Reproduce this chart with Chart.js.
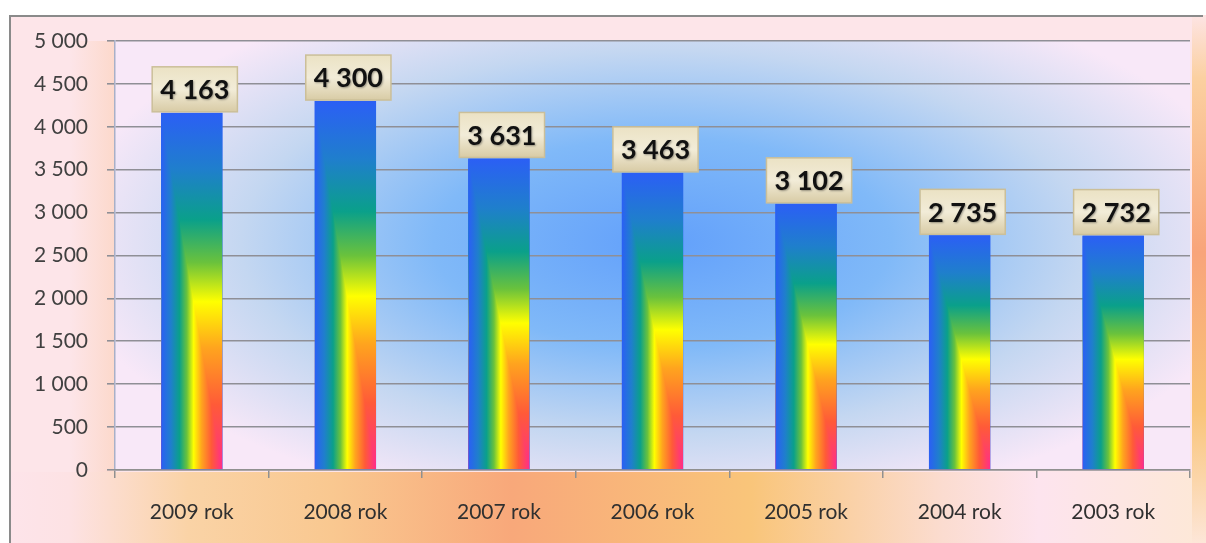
<!DOCTYPE html>
<html>
<head>
<meta charset="utf-8">
<script src="https://cdn.jsdelivr.net/npm/chart.js@4.4.0/dist/chart.umd.min.js"></script>
<style>
  html, body { margin: 0; padding: 0; background: #fff; }
  #wrap { width: 1206px; height: 543px; position: relative; }
</style>
</head>
<body>
<div id="wrap"><canvas id="c" width="1206" height="543"></canvas></div>
<script>
// Dane
const lata = ['2009 rok', '2008 rok', '2007 rok', '2006 rok', '2005 rok', '2004 rok', '2003 rok'];
const wartosci = [4163, 4300, 3631, 3463, 3102, 2735, 2732];
const osY = { min: 0, max: 5000, step: 500 };

// 4163 -> "4 163"
const fmt = n => String(n).replace(/\B(?=(\d{3})+(?!\d))/g, ' ');

// Kolory tęczy w słupku
const teczka = [
  [0.00, '#2b5ff5'], [0.16, '#1f7fcc'], [0.30, '#0aa08a'], [0.42, '#6ac23c'],
  [0.53, '#ffff00'], [0.66, '#ffa41e'], [0.82, '#ff5a38'], [1.00, '#ff2c8c']
];

// Tło całego obrazka
const tlo = {
  id: 'tlo',
  beforeDraw(chart) {
    const ctx = chart.ctx;
    const W = chart.width, H = chart.height;
    ctx.save();
    ctx.fillStyle = '#ffffff';
    ctx.fillRect(0, 0, W, H);
    ctx.fillStyle = '#fde5e9';
    ctx.fillRect(9, 15, W - 9, H - 15);
    // pas dolny
    const g = ctx.createLinearGradient(9, 0, W, 0);
    g.addColorStop(0.00, '#fde4ea');
    g.addColorStop(0.05, '#fde2e4');
    g.addColorStop(0.15, '#fad3a6');
    g.addColorStop(0.27, '#f9c890');
    g.addColorStop(0.42, '#f8a87a');
    g.addColorStop(0.62, '#f9c57a');
    g.addColorStop(0.78, '#fbdcd0');
    g.addColorStop(0.86, '#fde4ee');
    g.addColorStop(1.00, '#fde8d6');
    ctx.fillStyle = g;
    ctx.fillRect(9, 472, W - 9, H - 472);
    // pas prawy
    const g2 = ctx.createLinearGradient(0, 15, 0, H);
    g2.addColorStop(0.00, '#fde4e4');
    g2.addColorStop(0.12, '#fbd0a0');
    g2.addColorStop(0.45, '#f8a47a');
    g2.addColorStop(0.75, '#f9c478');
    g2.addColorStop(1.00, '#fde6d8');
    ctx.fillStyle = g2;
    ctx.fillRect(1192, 15, W - 1192, H - 15);
    // pasek przy osi
    const g3 = ctx.createLinearGradient(70, 0, 115, 0);
    g3.addColorStop(0, 'rgba(252,214,196,0)');
    g3.addColorStop(1, 'rgba(252,214,196,0.8)');
    ctx.fillStyle = g3;
    ctx.fillRect(70, 41, 45, 431);
    // ramka
    ctx.strokeStyle = '#8a8a8a';
    ctx.lineWidth = 2;
    ctx.beginPath();
    ctx.moveTo(10, H);
    ctx.lineTo(10, 16);
    ctx.lineTo(W - 3, 16);
    ctx.stroke();
    // obszar wykresu
    const a = chart.chartArea;
    const cx = (a.left + a.right) / 2 + 10, cy = a.top + (a.bottom - a.top) * 0.47;
    const rx = (a.right - a.left) * 0.56, ry = (a.bottom - a.top) * 0.64;
    ctx.save();
    ctx.beginPath();
    ctx.rect(a.left, a.top, a.right - a.left, a.bottom - a.top);
    ctx.clip();
    ctx.translate(cx, cy);
    ctx.scale(rx / ry, 1);
    const rg = ctx.createRadialGradient(0, 0, 0, 0, 0, ry);
    rg.addColorStop(0.00, '#62a0fb');
    rg.addColorStop(0.38, '#80b9f8');
    rg.addColorStop(0.70, '#c4d7f1');
    rg.addColorStop(1.00, '#f8e8f8');
    ctx.fillStyle = rg;
    ctx.fillRect(-cx * 2, -cy * 2, W * 4, H * 4);
    ctx.restore();
    ctx.restore();
  }
};

// Tęczowe wypełnienie słupków i etykiety wartości
const slupki = {
  id: 'slupki',
  afterDatasetsDraw(chart) {
    const ctx = chart.ctx;
    const meta = chart.getDatasetMeta(0);
    meta.data.forEach((bar, i) => {
      const p = bar.getProps(['x', 'y', 'base', 'width'], true);
      const x0 = p.x - p.width / 2, x1 = p.x + p.width / 2;
      const y0 = p.y, y1 = p.base;
      ctx.save();
      ctx.beginPath();
      ctx.rect(x0, y0, x1 - x0, y1 - y0);
      ctx.clip();
      const gv = ctx.createLinearGradient(0, y0, 0, y1);
      teczka.forEach(s => gv.addColorStop(s[0], s[1]));
      ctx.fillStyle = gv;
      ctx.fillRect(x0, y0, x1 - x0, y1 - y0);
      ctx.beginPath();
      ctx.moveTo(x0, y0);
      ctx.lineTo(x0, y1);
      ctx.lineTo(x1, y1);
      ctx.closePath();
      ctx.clip();
      const gh = ctx.createLinearGradient(x0, 0, x1, 0);
      teczka.forEach(s => gh.addColorStop(s[0], s[1]));
      ctx.fillStyle = gh;
      ctx.fillRect(x0, y0, x1 - x0, y1 - y0);
      ctx.restore();

      // etykieta
      const txt = fmt(wartosci[i]);
      ctx.save();
      ctx.font = 'bold 27px Lato, "Open Sans", sans-serif';
      const tw = ctx.measureText(txt).width;
      const bw = tw + 16, bh = 45;
      const bx = p.x + 3 - bw / 2, by = y0 - 1 - bh;
      const gb = ctx.createLinearGradient(0, by, 0, by + bh);
      gb.addColorStop(0, '#ebe2c4');
      gb.addColorStop(0.5, '#f2ecd8');
      gb.addColorStop(1, '#d8cba5');
      ctx.fillStyle = gb;
      ctx.fillRect(bx, by, bw, bh);
      ctx.strokeStyle = '#cbbf99';
      ctx.lineWidth = 1.5;
      ctx.strokeRect(bx, by, bw, bh);
      ctx.fillStyle = '#111111';
      ctx.textAlign = 'center';
      ctx.textBaseline = 'middle';
      ctx.shadowColor = 'rgba(0,0,0,0.35)';
      ctx.shadowBlur = 2;
      ctx.shadowOffsetX = 1;
      ctx.shadowOffsetY = 1;
      ctx.fillText(txt, bx + bw / 2, by + bh / 2 + 1);
      ctx.restore();
    });
  }
};

new Chart(document.getElementById('c'), {
  type: 'bar',
  data: {
    labels: lata,
    datasets: [{
      data: wartosci,
      backgroundColor: '#2b5ff5',
      borderWidth: 0,
      barPercentage: 0.4,
      categoryPercentage: 1.0
    }]
  },
  options: {
    responsive: false,
    animation: false,
    devicePixelRatio: 1,
    layout: { padding: { top: 41, right: 16, left: 0, bottom: 0 } },
    plugins: {
      legend: { display: false },
      tooltip: { enabled: false }
    },
    scales: {
      y: {
        min: osY.min, max: osY.max,
        afterFit: s => { s.width = 115; },
        ticks: {
          stepSize: osY.step,
          padding: 19,
          color: '#404040',
          font: { family: 'Lato, "Open Sans", sans-serif', size: 21 },
          callback: v => fmt(v)
        },
        grid: { color: '#8f8f96', lineWidth: 1.6, tickLength: 8, drawTicks: true },
        border: { color: '#a8b0c8', width: 1.5 }
      },
      x: {
        afterFit: s => { s.height = 73; },
        ticks: {
          padding: 22,
          color: '#303030',
          font: { family: 'Lato, "Open Sans", sans-serif', size: 21 }
        },
        grid: { drawOnChartArea: false, drawTicks: true, tickLength: 8, color: '#909090', lineWidth: 1.5, offset: true },
        border: { color: '#909090', width: 1.5 }
      }
    }
  },
  plugins: [tlo, slupki]
});
</script>
</body>
</html>
